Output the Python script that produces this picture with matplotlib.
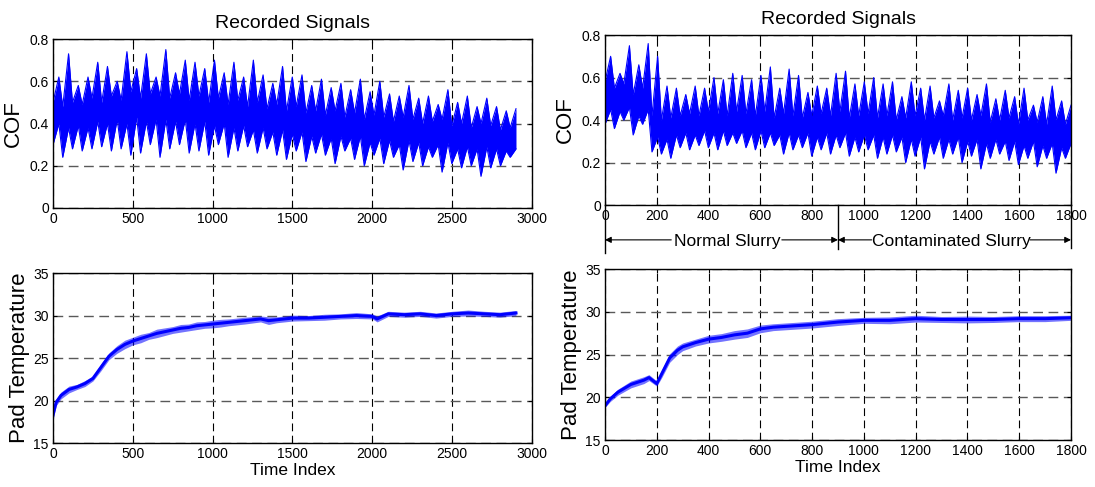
import numpy as np
import matplotlib.pyplot as plt
from matplotlib import transforms

plt.rcParams['font.family'] = ['Liberation Sans', 'DejaVu Sans']

# ---- COF, left run (per cycle values) ----
cof_l_start = 0.0
cof_l_peak = [0.62, 0.73, 0.58, 0.62, 0.69, 0.67, 0.60, 0.74, 0.66, 0.73, 0.62, 0.75,
              0.64, 0.70, 0.69, 0.66, 0.70, 0.64, 0.69, 0.62, 0.70, 0.63, 0.59, 0.67,
              0.62, 0.63, 0.58, 0.61, 0.57, 0.59, 0.56, 0.61, 0.55, 0.60, 0.54, 0.53,
              0.58, 0.52, 0.53, 0.49, 0.56, 0.50, 0.53, 0.48, 0.52, 0.48, 0.46, 0.47]
cof_l_trough = [0.30, 0.24, 0.28, 0.27, 0.28, 0.29, 0.27, 0.28, 0.25, 0.26, 0.30, 0.24,
                0.28, 0.30, 0.26, 0.27, 0.25, 0.30, 0.24, 0.27, 0.29, 0.26, 0.28, 0.25,
                0.23, 0.27, 0.22, 0.26, 0.25, 0.21, 0.27, 0.23, 0.20, 0.25, 0.21, 0.24,
                0.18, 0.22, 0.20, 0.24, 0.17, 0.21, 0.19, 0.20, 0.15, 0.19, 0.20, 0.24]
cof_l_mid_hi = [0.50, 0.48, 0.50, 0.49, 0.52, 0.50, 0.53, 0.51, 0.55, 0.52, 0.54, 0.53,
                0.52, 0.54, 0.51, 0.53, 0.50, 0.52, 0.49, 0.51, 0.48, 0.50, 0.47, 0.49,
                0.46, 0.48, 0.45, 0.46, 0.44, 0.46, 0.43, 0.45, 0.42, 0.44, 0.43, 0.41,
                0.43, 0.42, 0.40, 0.41, 0.42, 0.39, 0.40, 0.38, 0.40, 0.39, 0.37, 0.38]
cof_l_mid_lo = [0.40, 0.38, 0.39, 0.38, 0.41, 0.40, 0.42, 0.40, 0.43, 0.41, 0.42, 0.42,
                0.41, 0.42, 0.40, 0.41, 0.39, 0.40, 0.38, 0.39, 0.37, 0.38, 0.36, 0.37,
                0.35, 0.36, 0.34, 0.35, 0.33, 0.34, 0.33, 0.34, 0.31, 0.33, 0.32, 0.30,
                0.32, 0.31, 0.29, 0.30, 0.31, 0.28, 0.29, 0.28, 0.29, 0.28, 0.27, 0.28]
cof_l_len = 2900

# ---- COF, right run ----
cof_r_start = 0.08
cof_r_peak = [0.70, 0.62, 0.75, 0.66, 0.76, 0.70, 0.56, 0.55, 0.52, 0.56,
              0.55, 0.60, 0.59, 0.62, 0.61, 0.59, 0.61, 0.65, 0.55, 0.64,
              0.61, 0.53, 0.56, 0.55, 0.62, 0.63, 0.57, 0.58, 0.60, 0.57,
              0.58, 0.51, 0.58, 0.55, 0.56, 0.49, 0.57, 0.54, 0.55, 0.52,
              0.57, 0.50, 0.54, 0.51, 0.55, 0.47, 0.51, 0.56, 0.49, 0.47]
cof_r_trough = [0.38, 0.36, 0.40, 0.33, 0.38, 0.25, 0.24, 0.22, 0.27, 0.26,
                0.28, 0.27, 0.26, 0.28, 0.29, 0.27, 0.26, 0.27, 0.28, 0.24,
                0.26, 0.27, 0.23, 0.26, 0.24, 0.27, 0.23, 0.25, 0.26, 0.22,
                0.24, 0.25, 0.20, 0.23, 0.17, 0.24, 0.22, 0.24, 0.20, 0.23,
                0.17, 0.22, 0.24, 0.21, 0.19, 0.22, 0.18, 0.22, 0.15, 0.22]
cof_r_mid_hi = [0.58, 0.55, 0.57, 0.52, 0.55, 0.42, 0.40, 0.41, 0.42, 0.43,
                0.42, 0.44, 0.43, 0.42, 0.44, 0.43, 0.42, 0.44, 0.41, 0.43,
                0.42, 0.41, 0.42, 0.43, 0.42, 0.44, 0.41, 0.42, 0.43, 0.41,
                0.42, 0.40, 0.41, 0.42, 0.40, 0.41, 0.42, 0.40, 0.41, 0.40,
                0.42, 0.39, 0.40, 0.41, 0.38, 0.40, 0.39, 0.38, 0.40, 0.38]
cof_r_mid_lo = [0.45, 0.44, 0.46, 0.42, 0.45, 0.32, 0.31, 0.33, 0.34, 0.33,
                0.35, 0.34, 0.35, 0.34, 0.35, 0.34, 0.35, 0.34, 0.33, 0.34,
                0.33, 0.34, 0.32, 0.34, 0.33, 0.34, 0.32, 0.33, 0.33, 0.32,
                0.33, 0.32, 0.31, 0.32, 0.30, 0.32, 0.31, 0.32, 0.30, 0.31,
                0.29, 0.31, 0.30, 0.30, 0.28, 0.30, 0.28, 0.29, 0.27, 0.29]
cof_r_len = 1800

# ---- Pad temperature (centre line and half width of the noisy band) ----
temp_l_idx = [0, 20, 50, 100, 150, 200, 250, 300, 350, 400, 450, 500, 550, 600, 650,
              700, 750, 800, 850, 900, 950, 1000, 1050, 1100, 1200, 1300, 1350, 1400,
              1500, 1600, 1700, 1800, 1900, 2000, 2030, 2100, 2200, 2300, 2400, 2500,
              2600, 2700, 2800, 2900]
temp_l_val = [18.3, 19.8, 20.6, 21.3, 21.6, 22.0, 22.6, 23.9, 25.2, 26.0, 26.6, 27.0,
              27.3, 27.6, 27.9, 28.1, 28.3, 28.5, 28.6, 28.8, 28.9, 29.0, 29.1, 29.2,
              29.4, 29.6, 29.4, 29.5, 29.7, 29.7, 29.8, 29.9, 30.0, 29.9, 29.6, 30.2,
              30.1, 30.2, 30.0, 30.2, 30.3, 30.2, 30.1, 30.3]
temp_l_hw = [0.6, 0.4, 0.4, 0.4, 0.3, 0.35, 0.3, 0.4, 0.4, 0.45, 0.5, 0.45,
             0.5, 0.4, 0.5, 0.45, 0.4, 0.45, 0.4, 0.45, 0.4, 0.45, 0.45, 0.4,
             0.4, 0.35, 0.45, 0.35, 0.35, 0.3, 0.35, 0.3, 0.35, 0.3, 0.35, 0.3,
             0.3, 0.3, 0.3, 0.3, 0.35, 0.3, 0.3, 0.3]
temp_r_idx = [0, 20, 50, 100, 150, 170, 200, 220, 250, 280, 300, 350, 400, 450, 500,
              550, 600, 650, 700, 800, 900, 1000, 1100, 1200, 1300, 1400, 1500, 1600,
              1700, 1800]
temp_r_val = [19.0, 19.8, 20.6, 21.5, 22.0, 22.3, 21.6, 22.8, 24.6, 25.5, 25.9, 26.4,
              26.8, 27.0, 27.3, 27.5, 28.0, 28.2, 28.3, 28.5, 28.8, 29.0, 29.0, 29.2,
              29.1, 29.1, 29.1, 29.2, 29.2, 29.3]
temp_r_hw = [0.2, 0.3, 0.35, 0.4, 0.4, 0.35, 0.3, 0.45, 0.5, 0.5, 0.45, 0.4,
             0.45, 0.45, 0.5, 0.5, 0.45, 0.4, 0.4, 0.4, 0.4, 0.35, 0.4, 0.4,
             0.35, 0.4, 0.35, 0.35, 0.35, 0.3]

BLUE = '#0000ff'


def envelope(start, peak, trough, mid_hi, mid_lo, length):
    n = len(peak)
    period = length / (n - 0.4)
    xb = np.arange(n) * period
    xp = xb + 0.6 * period
    x = np.column_stack([xb, xp]).ravel()
    upper = np.column_stack([mid_hi, peak]).ravel()
    lower = np.column_stack([trough, mid_lo]).ravel()
    x = np.concatenate([[0], x])
    upper = np.concatenate([[start], upper])
    lower = np.concatenate([[start], lower])
    return x, lower, upper


def style(ax, xmax, xstep, ylim, ystep):
    ax.set_xlim(0, xmax)
    ax.set_ylim(*ylim)
    ax.set_xticks(np.arange(0, xmax + 1, xstep))
    ax.set_yticks(np.arange(ylim[0], ylim[1] + ystep / 2, ystep))
    ax.xaxis.grid(True, color='k', linestyle=(0, (7, 4)), lw=0.8)
    ax.yaxis.grid(True, color='0.35', linestyle=(0, (7, 4)), lw=1.0)
    ax.set_axisbelow(True)
    ax.tick_params(direction='in', length=3, top=True, right=True, labelsize=10, pad=3)
    for s in ax.spines.values():
        s.set_linewidth(1.0)


fig = plt.figure(figsize=(10.95, 4.87), dpi=100)
ax1 = fig.add_axes([0.0484, 0.5729, 0.4374, 0.347])
ax2 = fig.add_axes([0.0484, 0.0903, 0.4374, 0.349])
ax3 = fig.add_axes([0.5525, 0.579, 0.4256, 0.349])
ax4 = fig.add_axes([0.5525, 0.0965, 0.4256, 0.351])

for ax, args in [(ax1, (cof_l_start, cof_l_peak, cof_l_trough, cof_l_mid_hi, cof_l_mid_lo, cof_l_len)),
                 (ax3, (cof_r_start, cof_r_peak, cof_r_trough, cof_r_mid_hi, cof_r_mid_lo, cof_r_len))]:
    x, lo, hi = envelope(*args)
    ax.fill_between(x, lo, hi, color=BLUE, lw=0)
    ax.plot(x, hi, color=BLUE, lw=0.8)
    ax.plot(x, lo, color=BLUE, lw=0.8)
    ax.set_title('Recorded Signals', fontsize=14, pad=8)
    ax.set_ylabel('COF', fontsize=16, labelpad=4)

for ax, idx, val, hw in [(ax2, temp_l_idx, temp_l_val, temp_l_hw),
                         (ax4, temp_r_idx, temp_r_val, temp_r_hw)]:
    idx = np.array(idx)
    val = np.array(val)
    hw = np.array(hw)
    ax.fill_between(idx, val - hw, val + hw, color=BLUE, lw=0, alpha=0.55)
    ax.plot(idx, val, color=BLUE, lw=2.2)
    ax.set_ylabel('Pad Temperature', fontsize=16, labelpad=2)
    ax.set_xlabel('Time Index', fontsize=12.5, labelpad=1)

style(ax1, 3000, 500, (0, 0.8), 0.2)
style(ax2, 3000, 500, (15, 35), 5)
style(ax3, 1800, 200, (0, 0.8), 0.2)
style(ax4, 1800, 200, (15, 35), 5)
ax1.set_yticklabels(['0', '0.2', '0.4', '0.6', '0.8'])
ax3.set_yticklabels(['0', '0.2', '0.4', '0.6', '0.8'])

# slurry annotation under the right COF plot
trans = transforms.blended_transform_factory(ax3.transData, ax3.transAxes)
y_arrow = -0.205
for xv, ybot in [(0, -0.285), (900, -0.26), (1800, -0.255)]:
    ax3.plot([xv, xv], [0, ybot], color='k', lw=1.0, transform=trans, clip_on=False)
ax3.text(471, -0.215, 'Normal Slurry', transform=trans, ha='center', va='center', fontsize=12.5)
ax3.text(1336, -0.215, 'Contaminated Slurry', transform=trans, ha='center', va='center', fontsize=12.5)
for x0, x1 in [(256, 0), (683, 900), (1030, 900), (1642, 1800)]:
    ax3.annotate('', xy=(x1, y_arrow), xytext=(x0, y_arrow), xycoords=trans, textcoords=trans,
                 annotation_clip=False,
                 arrowprops=dict(arrowstyle='-|>', color='k', lw=0.8, mutation_scale=9,
                                 shrinkA=0, shrinkB=0))

fig.savefig('out.png', dpi=100)
